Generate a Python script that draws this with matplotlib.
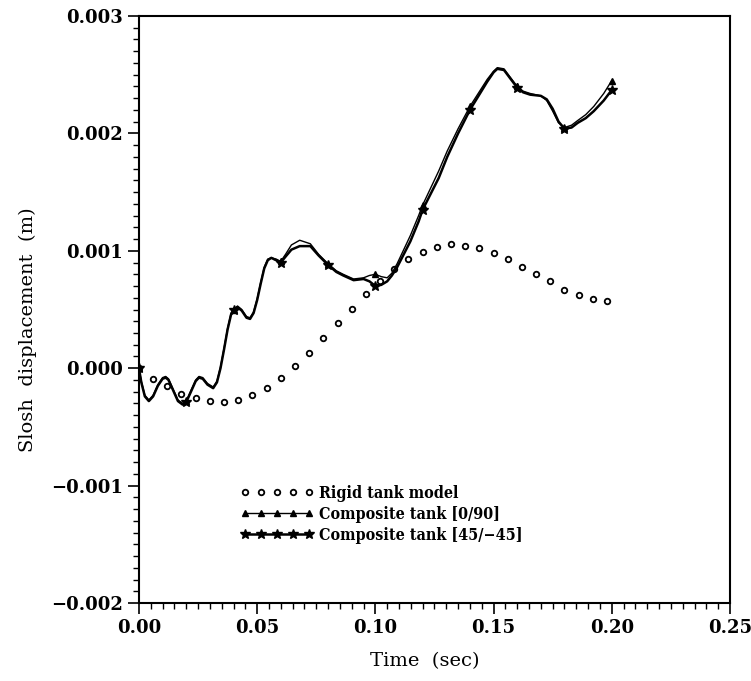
import numpy as np
import matplotlib
matplotlib.use("Agg")
import matplotlib.pyplot as plt
from matplotlib.ticker import MultipleLocator, FuncFormatter

plt.rcParams['font.family'] = ['DejaVu Serif']
plt.rcParams['font.weight'] = 'bold'

# rigid tank model, sampled every 0.006 s
rigid_t = [0.000, 0.006, 0.012, 0.018, 0.024, 0.030, 0.036, 0.042, 0.048, 0.054,
           0.060, 0.066, 0.072, 0.078, 0.084, 0.090, 0.096, 0.102, 0.108, 0.114,
           0.120, 0.126, 0.132, 0.138, 0.144, 0.150, 0.156, 0.162, 0.168, 0.174,
           0.180, 0.186, 0.192, 0.198]
rigid_y = [0.0, -0.000091, -0.000154, -0.000216, -0.000256, -0.000282, -0.000288,
           -0.000271, -0.000225, -0.000168, -0.000085, 0.000017, 0.000131, 0.000254,
           0.000382, 0.000507, 0.000635, 0.000744, 0.000844, 0.000929, 0.000991,
           0.001034, 0.001055, 0.001043, 0.001023, 0.000983, 0.000929, 0.000866,
           0.000800, 0.000740, 0.000669, 0.000622, 0.000587, 0.000570]

# time samples shared by both composite tank runs
comp_t = [0.000, 0.001, 0.0025, 0.0042, 0.006, 0.008, 0.010, 0.0113, 0.0125, 0.0145,
          0.0165, 0.0185, 0.020, 0.022, 0.024, 0.0254, 0.027, 0.029, 0.0314, 0.033,
          0.0345, 0.036, 0.0375, 0.039, 0.040, 0.0417, 0.0435, 0.0455, 0.047, 0.0485,
          0.050, 0.0515, 0.053, 0.0545, 0.056, 0.058, 0.060, 0.062, 0.0645, 0.068,
          0.0725, 0.076, 0.080, 0.0835, 0.0864, 0.0908, 0.095, 0.0975, 0.100, 0.1025,
          0.105, 0.107, 0.1092, 0.112, 0.1148, 0.1183, 0.120, 0.1268, 0.1304, 0.135,
          0.140, 0.1473, 0.150, 0.1516, 0.1544, 0.157, 0.160, 0.1625, 0.1655, 0.170,
          0.1725, 0.175, 0.1775, 0.180, 0.183, 0.1856, 0.189, 0.1924, 0.1966, 0.200]

# composite tank [0/90]
c090_y = [0.0, -0.00011, -0.00023, -0.00027, -0.00023, -0.00014, -0.00008, -0.00007,
          -0.00009, -0.00018, -0.00027, -0.00030, -0.00028, -0.00019, -0.00010,
          -0.00007, -0.00008, -0.00013, -0.00016, -0.00011, 0.00001, 0.00017, 0.00034,
          0.00047, 0.00050, 0.00053, 0.00050, 0.00044, 0.00043, 0.00048, 0.00059,
          0.00073, 0.00086, 0.00093, 0.00094, 0.00093, 0.00091, 0.00097, 0.00105,
          0.00109, 0.00106, 0.00097, 0.00089, 0.00083, 0.00080, 0.00076, 0.00077,
          0.00079, 0.00080, 0.00078, 0.00077, 0.00081, 0.00089, 0.00101, 0.00113,
          0.00130, 0.00139, 0.00168, 0.00185, 0.00204, 0.00223, 0.00246, 0.00253,
          0.00256, 0.00255, 0.00248, 0.00240, 0.00236, 0.00234, 0.00232, 0.00228,
          0.00219, 0.00209, 0.00205, 0.00207, 0.00211, 0.00216, 0.00223, 0.00234,
          0.00245]

# composite tank [45/-45]
c45_y = [0.0, -0.00012, -0.00024, -0.00028, -0.00024, -0.00015, -0.00009, -0.00008,
         -0.00010, -0.00019, -0.00028, -0.00031, -0.00029, -0.00020, -0.00011,
         -0.00008, -0.00009, -0.00014, -0.00017, -0.00012, 0.00000, 0.00016, 0.00033,
         0.00046, 0.00050, 0.00052, 0.00049, 0.00043, 0.00042, 0.00047, 0.00058,
         0.00072, 0.00085, 0.00092, 0.00094, 0.00092, 0.00090, 0.00095, 0.00101,
         0.00104, 0.00104, 0.00096, 0.00088, 0.00082, 0.00079, 0.00075, 0.00076,
         0.00074, 0.00070, 0.00071, 0.00074, 0.00079, 0.00086, 0.00097, 0.00108,
         0.00125, 0.00135, 0.00162, 0.00180, 0.00200, 0.00220, 0.00244, 0.00252,
         0.00255, 0.00254, 0.00247, 0.00239, 0.00235, 0.00233, 0.00232, 0.00229,
         0.00221, 0.00210, 0.00204, 0.00205, 0.00209, 0.00213, 0.00219, 0.00228,
         0.00237]

labels = ['Rigid tank model', 'Composite tank [0/90]', 'Composite tank [45/\u221245]']


def every_002(t):
    return [i for i, v in enumerate(t) if abs(v / 0.02 - round(v / 0.02)) < 1e-6]


fig = plt.figure(figsize=(7.51, 6.81), dpi=100)
ax = fig.add_axes([0.185, 0.1145, 0.787, 0.862])

ax.plot(rigid_t, rigid_y, linestyle='none', marker='o', markersize=4,
        markerfacecolor='white', markeredgecolor='black', markeredgewidth=1.3,
        label=labels[0])
ax.plot(comp_t, c090_y, color='black', lw=1.0, marker='^', markersize=5,
        markevery=every_002(comp_t), label=labels[1])
ax.plot(comp_t, c45_y, color='black', lw=1.8, marker='*', markersize=7,
        markevery=every_002(comp_t), label=labels[2])

ax.set_xlim(0, 0.25)
ax.set_ylim(-0.002, 0.003)
ax.xaxis.set_major_locator(MultipleLocator(0.05))
ax.xaxis.set_minor_locator(MultipleLocator(0.005))
ax.yaxis.set_major_locator(MultipleLocator(0.001))
ax.yaxis.set_minor_locator(MultipleLocator(0.0001))
ax.xaxis.set_major_formatter(FuncFormatter(lambda v, p: ('%.2f' % v).replace('-', '\u2212')))
ax.yaxis.set_major_formatter(FuncFormatter(
    lambda v, p: ('%.3f' % (0 if abs(v) < 1e-12 else v)).replace('-', '\u2212')))

ax.tick_params(which='major', direction='out', length=8, width=1.2, labelsize=13)
ax.tick_params(which='minor', direction='out', length=4, width=1.0)
for s in ax.spines.values():
    s.set_linewidth(1.5)

ax.set_xlabel('Time  (sec)', fontsize=14)
ax.set_ylabel('Slosh  displacement  (m)', fontsize=14)
ax.xaxis.set_label_coords(0.483, -0.083)
ax.yaxis.set_label_coords(-0.172, 0.466)

leg = ax.legend(loc='upper left', bbox_to_anchor=(0.16, 0.212), frameon=False,
                numpoints=5, handlelength=4.6, handletextpad=0.35, labelspacing=0.25,
                borderaxespad=0,
                prop={'family': 'DejaVu Serif', 'weight': 'bold', 'size': 11.5,
                      'stretch': 'condensed'})

fig.savefig('out.png', dpi=100)
